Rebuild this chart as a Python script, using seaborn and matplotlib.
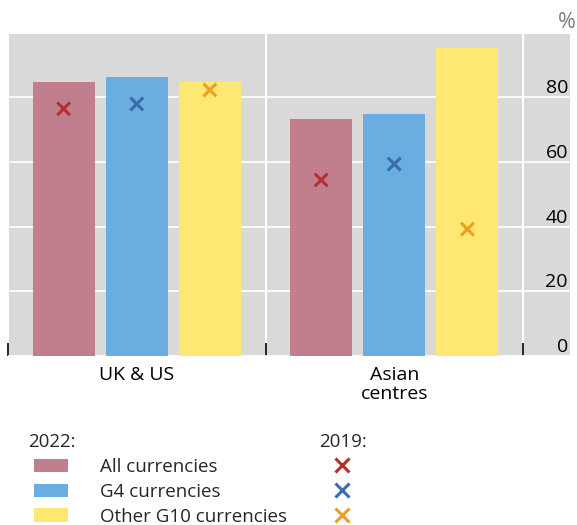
import matplotlib
matplotlib.use("Agg")
import matplotlib.pyplot as plt
import seaborn as sns
import pandas as pd
import numpy as np
from matplotlib.patches import Patch
from matplotlib.lines import Line2D
from matplotlib.ticker import FixedLocator

# ---- data ----
centres = ["UK & US", "Asian\ncentres"]
series = ["All currencies", "G4 currencies", "Other G10 currencies"]
share_2022_all = [84.7, 73.3]
share_2022_g4 = [86.3, 74.9]
share_2022_other = [84.8, 95.2]
share_2019_all = [76.4, 54.4]
share_2019_g4 = [77.9, 59.3]
share_2019_other = [82.2, 39.2]
y_ticks = [0, 20, 40, 60, 80]

bar_colors = ["#C17F8E", "#6AADE0", "#FEE872"]
cross_colors = ["#B5302E", "#3B6BB0", "#EE9F22"]

df22 = pd.DataFrame({
    "centre": centres * 3,
    "currency": [s for s in series for _ in centres],
    "share": share_2022_all + share_2022_g4 + share_2022_other,
})
df19 = pd.DataFrame({
    "centre": centres * 3,
    "currency": [s for s in series for _ in centres],
    "share": share_2019_all + share_2019_g4 + share_2019_other,
})

sns.set_theme(style="white")
plt.rcParams["font.family"] = ["Open Sans", "DejaVu Sans"]
FS = 14
LFS = 13.5

fig = plt.figure(figsize=(5.77, 5.25), dpi=100)
ax = fig.add_axes([8 / 577, 1 - 356 / 525, (570 - 8) / 577, (356 - 34) / 525])
ax.set_facecolor("#D9D9D9")

group_width = 0.852
sns.barplot(data=df22, x="centre", y="share", hue="currency", hue_order=series,
            palette=bar_colors, width=group_width, gap=0.151, saturation=1,
            linewidth=0, legend=False, ax=ax)

# crosses placed at the dodged bar centres
step = group_width / len(series)
offsets = {s: (i - 1) * step for i, s in enumerate(series)}
df19["xpos"] = [centres.index(c) + offsets[s] for c, s in zip(df19["centre"], df19["currency"])]
sns.scatterplot(data=df19, x="xpos", y="share", hue="currency", hue_order=series,
                palette=cross_colors, marker="x", s=85, linewidth=2.2,
                legend=False, ax=ax, zorder=5)

ax.set_xlim(-0.5, 1.6825)
ax.set_ylim(0, 99.5)
ax.set_xlabel("")
ax.set_ylabel("")
for sp in ax.spines.values():
    sp.set_visible(False)

ax.set_axisbelow(True)
ax.yaxis.tick_right()
ax.set_yticks(y_ticks)
ax.set_yticklabels([str(v) for v in y_ticks])
ax.tick_params(axis="y", length=0, pad=-1.5, labelsize=FS, labelcolor="black")
for lab in ax.get_yticklabels():
    lab.set_horizontalalignment("right")
    lab.set_verticalalignment("bottom")
ax.yaxis.grid(True, color="white", linewidth=1.2)

ax.set_xticks([0, 1])
ax.set_xticklabels(centres, linespacing=1.12)
ax.xaxis.set_minor_locator(FixedLocator([-0.5, 0.5, 1.5]))
ax.tick_params(axis="x", which="major", length=0, pad=7, labelsize=FS, labelcolor="black")
ax.tick_params(axis="x", which="minor", direction="in", length=9.5, width=1.2,
               color="black", bottom=True)
ax.xaxis.grid(True, which="minor", color="white", linewidth=1.5)
ax.xaxis.grid(False, which="major")

fig.text(576 / 577, 1 - 22 / 525, "%", ha="right", va="center", fontsize=15.5, color="#7F7F7F")

# legends
fig.text(28 / 577, 1 - 442 / 525, "2022:", ha="left", va="center", fontsize=LFS)
fig.text(319 / 577, 1 - 442 / 525, "2019:", ha="left", va="center", fontsize=LFS)

h1 = [Patch(facecolor=c, edgecolor="none") for c in bar_colors]
fig.legend(h1, series, loc="upper left",
           bbox_to_anchor=(34 / 577, 1 - 458 / 525), frameon=False,
           fontsize=LFS, handlelength=1.8, handleheight=0.75,
           handletextpad=1.7, labelspacing=0.37, borderpad=0, borderaxespad=0)
h2 = [Line2D([], [], marker="x", linestyle="none", color=c, markersize=9.5,
             markeredgewidth=2.2) for c in cross_colors]
fig.legend(h2, [" "] * 3, loc="upper left",
           bbox_to_anchor=(325 / 577, 1 - 458 / 525), frameon=False,
           fontsize=LFS, handlelength=1.8, handleheight=0.75,
           handletextpad=0, labelspacing=0.37, borderpad=0, borderaxespad=0)

fig.savefig("out.png", dpi=100)
